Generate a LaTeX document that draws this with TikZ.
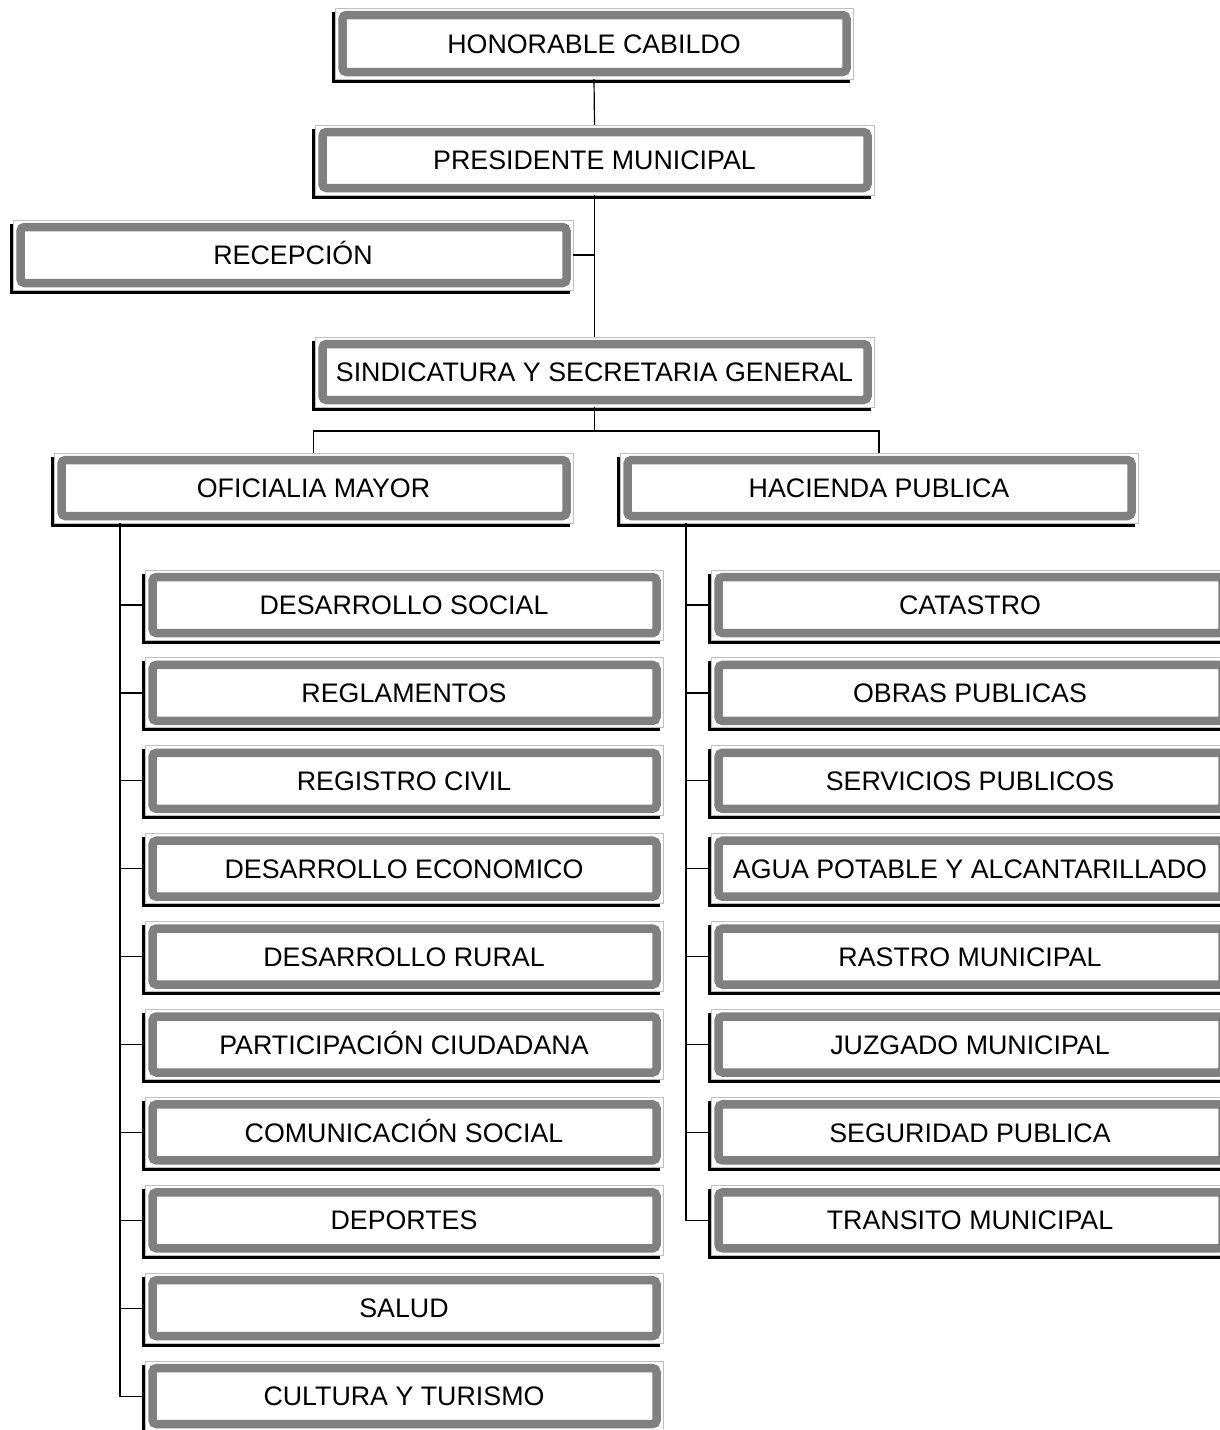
\documentclass[tikz,border=0pt]{standalone}
\usepackage{fontspec}
\setmainfont{Liberation Sans}
\newcommand\boxfont{\fontsize{26.8}{32}\selectfont}
\tikzset{
  outl/.style={draw=black!25, line width=1pt, fill=white},
  band/.style={draw=black!50, line width=8.5pt, rounded corners=4pt},
  boxtext/.style={inner sep=0pt, text height=19.2pt, text depth=0pt, font=\boxfont},
  conn/.style={line width=1.2pt, draw=black}
}
\newcommand\orgbox[6]{%
  \fill[black] ({#2-3.5},{#3+3.5}) rectangle ({#4-3.5},{#5+3.5});
  \draw[outl] (#2,#3) rectangle (#4,#5);
  \draw[band] ({#2+7.5},{#3+7}) rectangle ({#4-6.5},{#5-7});
  \node[boxtext, minimum width={#4-#2}, minimum height={#5-#3}] (#1) at ({(#2+#4)/2},{(#3+#5)/2}) {#6};
}
\begin{document}
\begin{tikzpicture}[x=1pt,y=-1pt]
\useasboundingbox (0,0) rectangle (1220,1430);
\clip (0,0) rectangle (1220,1430);
\fill[white] (0,0) rectangle (1220,1430);
\coordinate (br) at (594.5,431);
\coordinate (ls) at (120,523);
\coordinate (rs) at (686,523);
% boxes
\orgbox{hon}{335}{8}{853}{79}{HONORABLE CABILDO}
\orgbox{pres}{315}{125}{874}{195}{PRESIDENTE MUNICIPAL}
\orgbox{rec}{13}{220}{573}{290}{RECEPCIÓN}
\orgbox{sind}{315}{337}{874}{407}{SINDICATURA Y SECRETARIA GENERAL}
\orgbox{ofi}{54}{453}{573}{523}{OFICIALIA MAYOR}
\orgbox{hac}{620}{453}{1138}{523}{HACIENDA PUBLICA}
\foreach \t [count=\i from 0] in {DESARROLLO SOCIAL,REGLAMENTOS,REGISTRO CIVIL,DESARROLLO ECONOMICO,DESARROLLO RURAL,PARTICIPACIÓN CIUDADANA,COMUNICACIÓN SOCIAL,DEPORTES,SALUD,CULTURA Y TURISMO}{
  \pgfmathsetmacro\yt{570+87.9*\i}
  \pgfmathsetmacro\yb{\yt+70}
  \orgbox{L\i}{145}{\yt}{663}{\yb}{\t}
  \draw[conn] (L\i.west) -- (L\i.west -| ls);
}
\foreach \t [count=\i from 0] in {CATASTRO,OBRAS PUBLICAS,SERVICIOS PUBLICOS,AGUA POTABLE Y ALCANTARILLADO,RASTRO MUNICIPAL,JUZGADO MUNICIPAL,SEGURIDAD PUBLICA,TRANSITO MUNICIPAL}{
  \pgfmathsetmacro\yt{570+87.9*\i}
  \pgfmathsetmacro\yb{\yt+70}
  \orgbox{R\i}{711}{\yt}{1229}{\yb}{\t}
  \draw[conn] (R\i.west) -- (R\i.west -| rs);
}
\draw[conn] (hon.south) -- (pres.north);
\draw[conn] (pres.south) -- (sind.north);
\draw[conn] (rec.east) -- (rec.east -| pres.south);
\draw[conn] (sind.south) -- (br);
\draw[conn] (ofi.north) |- (br) -| (hac.north);
\draw[conn] (ls) |- (L9.west);
\draw[conn] (rs) |- (R7.west);
\end{tikzpicture}
\end{document}
